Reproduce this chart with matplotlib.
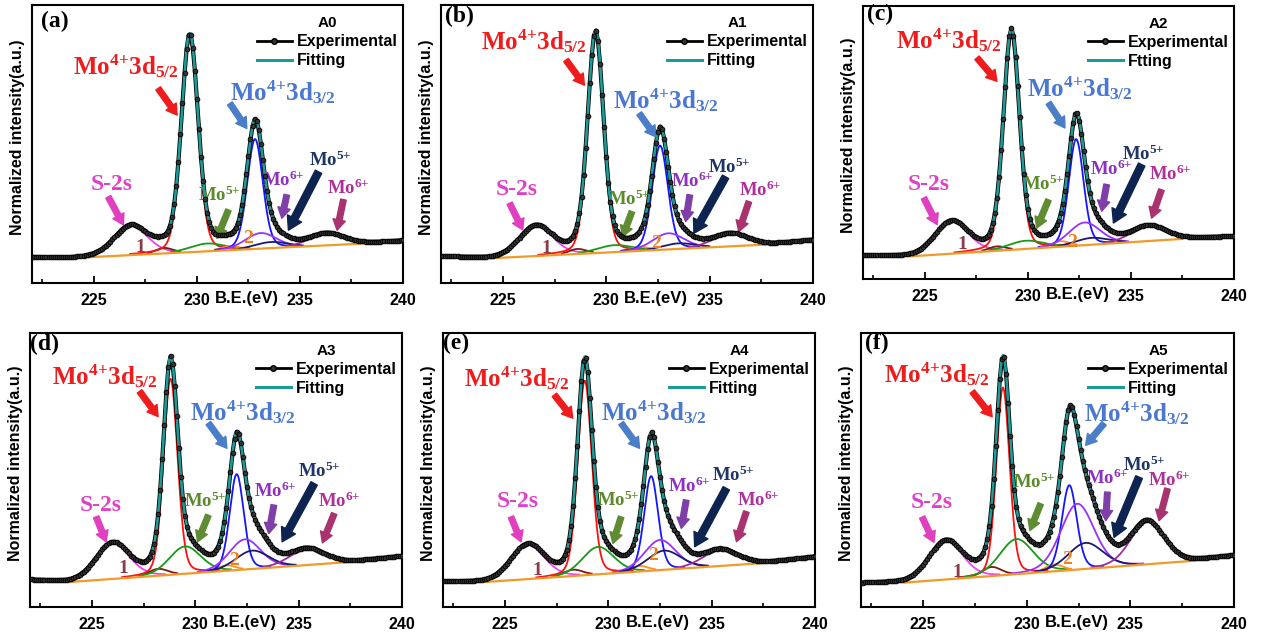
import numpy as np
import matplotlib
matplotlib.use('Agg')
import matplotlib.pyplot as plt
from matplotlib.lines import Line2D

plt.rcParams['font.family'] = 'Liberation Sans'
plt.rcParams['font.weight'] = 'bold'
plt.rcParams['axes.labelweight'] = 'bold'
plt.rcParams['mathtext.fontset'] = 'custom'
plt.rcParams['mathtext.rm'] = 'Liberation Serif:bold'
plt.rcParams['mathtext.it'] = 'Liberation Serif:bold'
plt.rcParams['mathtext.bf'] = 'Liberation Serif:bold'

# panel names
samples = ['A0', 'A1', 'A2', 'A3', 'A4', 'A5']
panel_tags = ['(a)', '(b)', '(c)', '(d)', '(e)', '(f)']
fit_names = ['Fitting', 'Fitting', 'Ftting', 'Fitting', 'Fitting', 'Fitting']
y_names = ['Normalized intensity(a.u.)'] * 4 + ['Normalized Intensity(a.u.)',
                                                'Normalized intensity(a.u.)']

# fitted peaks (per panel): S-2s, 1, Mo4+3d5/2, Mo5+, 2, Mo4+3d3/2, Mo6+, Mo5+, Mo6+
peak_centers = [
    [226.8, 228.4, 229.65, 230.5, 231.6, 232.82, 233.1, 233.6, 236.3],
    [226.6, 228.6, 229.48, 230.4, 231.6, 232.6, 233.0, 233.5, 236.0],
    [226.3, 228.5, 229.2, 229.9, 231.6, 232.34, 232.75, 233.1, 235.85],
    [226.0, 228.2, 228.8, 229.5, 231.5, 232.0, 232.4, 232.75, 235.4],
    [226.1, 228.3, 228.86, 229.5, 231.5, 232.07, 232.5, 232.7, 235.4],
    [226.1, 228.3, 228.85, 229.5, 231.3, 232.05, 232.44, 232.84, 235.8],
]
peak_heights = [
    [0.105, 0.020, 0.765, 0.028, 0.015, 0.395, 0.056, 0.022, 0.042],
    [0.108, 0.018, 0.780, 0.025, 0.015, 0.375, 0.058, 0.020, 0.045],
    [0.118, 0.016, 0.780, 0.030, 0.020, 0.390, 0.083, 0.025, 0.055],
    [0.130, 0.025, 0.715, 0.100, 0.020, 0.350, 0.110, 0.067, 0.058],
    [0.125, 0.023, 0.710, 0.100, 0.020, 0.345, 0.110, 0.070, 0.058],
    [0.139, 0.033, 0.685, 0.128, 0.025, 0.310, 0.240, 0.095, 0.155],
]
peak_fwhm = [
    [1.9, 1.0, 0.95, 2.0, 1.0, 0.90, 1.8, 1.9, 2.0],
    [1.9, 1.0, 0.90, 2.0, 1.0, 0.90, 1.8, 1.9, 2.0],
    [1.9, 1.0, 0.90, 2.0, 1.0, 0.85, 1.8, 1.9, 2.0],
    [1.9, 1.1, 0.80, 1.8, 1.0, 0.80, 1.8, 1.9, 2.0],
    [1.9, 1.1, 0.80, 1.8, 1.0, 0.80, 1.8, 1.9, 2.0],
    [1.9, 1.1, 0.75, 1.9, 1.0, 0.85, 1.9, 2.0, 1.9],
]
# background knots (eV, intensity); orange line drawn between the middle two
bg_x = [
    [222, 223.7, 238.3, 240],
    [222, 224.4, 237.9, 240],
    [222, 224.3, 237.5, 240],
    [222, 223.9, 237.6, 240],
    [222, 224.0, 237.6, 240],
    [222, 224.1, 238.1, 240],
]
bg_y = [
    [0.092, 0.089, 0.143, 0.152],
    [0.095, 0.089, 0.139, 0.155],
    [0.085, 0.083, 0.147, 0.156],
    [0.098, 0.091, 0.165, 0.185],
    [0.091, 0.091, 0.161, 0.183],
    [0.086, 0.089, 0.169, 0.187],
]
comp_colors = ['#ee44ee', '#7a1a1a', '#ff1010', '#169a16', '#ff9020',
               '#1515ff', '#9b30ff', '#1a1a70', '#a02a9a']

# label / arrow placement (eV, axes height fraction)
red_lab = [(224.0, 0.782), (223.95, 0.872), (223.58, 0.874), (223.08, 0.844), (223.03, 0.835), (223.1, 0.851)]
red_arr = [((228.12, 0.70), (229.04, 0.604)), ((228.05, 0.802), (228.94, 0.712)), ((227.53, 0.81), (228.5, 0.724)),
           ((227.3, 0.787), (228.2, 0.695)), ((227.39, 0.774), (228.28, 0.689)), ((227.37, 0.786), (228.33, 0.694))]
blue_lab = [(231.6, 0.688), (230.31, 0.658), (229.95, 0.70), (229.74, 0.713), (229.65, 0.713), (232.76, 0.707)]
blue_arr = [((231.6, 0.646), (232.42, 0.556)), ((231.59, 0.61), (232.4, 0.526)), ((231.0, 0.645), (231.8, 0.553)),
            ((230.63, 0.671), (231.53, 0.579)), ((230.62, 0.671), (231.51, 0.579)), ((233.73, 0.67), (232.84, 0.59))]
s_lab = [(225.87, 0.353), (225.64, 0.335), (225.19, 0.346), (225.44, 0.372), (225.61, 0.384), (225.43, 0.383)]
s_arr = [((225.7, 0.31), (226.43, 0.209)), ((225.32, 0.287), (225.96, 0.191)), ((224.95, 0.297), (225.6, 0.199)),
         ((225.2, 0.329), (225.68, 0.238)), ((225.29, 0.329), (225.78, 0.238)), ((224.95, 0.328), (225.52, 0.236))]
one_lab = [(227.24, 0.126), (227.09, 0.125), (226.8, 0.126), (226.5, 0.14), (226.58, 0.134), (226.64, 0.126)]
two_lab = [(232.5, 0.161), (232.4, 0.143), (232.13, 0.132), (231.85, 0.171), (232.16, 0.189), (231.96, 0.175)]
g_lab = [(231.1, 0.317), (231.1, 0.30), (230.76, 0.346), (230.47, 0.384), (230.46, 0.39), (230.35, 0.456)]
g_arr = [((231.53, 0.263), (230.97, 0.161)), ((231.24, 0.257), (230.79, 0.167)), ((231.0, 0.29), (230.43, 0.187)),
         ((230.63, 0.335), (230.11, 0.238)), ((230.62, 0.329), (230.22, 0.232)), ((230.67, 0.377), (230.15, 0.279))]
v_lab = [(234.2, 0.37), (234.16, 0.365), (234.06, 0.40), (233.88, 0.421), (233.93, 0.439), (233.89, 0.468)]
v_arr = [((234.36, 0.317), (234.12, 0.233)), ((234.04, 0.317), (233.84, 0.221)), ((233.82, 0.346), (233.58, 0.248)),
         ((233.8, 0.372), (233.55, 0.268)), ((233.77, 0.39), (233.53, 0.287)), ((233.89, 0.419), (233.81, 0.315))]
n_lab = [(236.47, 0.442), (235.93, 0.418), (235.6, 0.455), (235.99, 0.494), (236.03, 0.482), (235.66, 0.517)]
n_arr = [((235.9, 0.40), (234.44, 0.19)), ((235.77, 0.382), (234.24, 0.179)), ((235.52, 0.419), (234.15, 0.205)),
         ((235.75, 0.451), (234.2, 0.238)), ((235.71, 0.433), (234.18, 0.22)), ((235.42, 0.474), (234.21, 0.254))]
m_lab = [(237.35, 0.34), (237.46, 0.335), (236.89, 0.382), (236.96, 0.384), (237.25, 0.39), (236.87, 0.462)]
m_arr = [((237.11, 0.30), (236.8, 0.19)), ((236.9, 0.293), (236.41, 0.185)), ((236.48, 0.327), (236.0, 0.223)),
         ((236.72, 0.341), (236.15, 0.234)), ((236.68, 0.348), (236.2, 0.238)), ((236.79, 0.432), (236.38, 0.315))]
tag_pos = [(223.1, 0.94), (222.9, 0.958), (222.85, 0.968), (222.68, 0.957), (222.63, 0.963), (222.78, 0.963)]

# axes rectangles in figure fractions
rects = [
    [0.0254, 0.5564, 0.2942, 0.4357],
    [0.3497, 0.5564, 0.2950, 0.4357],
    [0.6844, 0.5627, 0.2942, 0.4280],
    [0.0238, 0.0486, 0.2950, 0.4295],
    [0.3513, 0.0486, 0.2950, 0.4295],
    [0.6828, 0.0486, 0.2958, 0.4295],
]

eta = 0.2


def pvoigt(x, c, h, w):
    g = np.exp(-4 * np.log(2) * ((x - c) / w) ** 2)
    l = 1 / (1 + 4 * ((x - c) / w) ** 2)
    return h * ((1 - eta) * g + eta * l)


def arrow(ax, tail, head, color, scale=15):
    ax.annotate('', xy=head, xytext=tail,
                arrowprops=dict(arrowstyle='simple,head_length=0.5,head_width=0.6,tail_width=0.27',
                                color=color, shrinkA=0, shrinkB=0, mutation_scale=scale))


serif = 'Liberation Serif'
x_fit = np.linspace(222, 240, 1201)
x_exp = np.arange(222, 240.01, 0.1)

fig = plt.figure(figsize=(12.61, 6.38), dpi=100)

for i in range(6):
    ax = fig.add_axes(rects[i])
    bg_fit = np.interp(x_fit, bg_x[i], bg_y[i])
    bg_exp = np.interp(x_exp, bg_x[i], bg_y[i])
    env_fit = bg_fit.copy()
    env_exp = bg_exp.copy()
    for c, h, w, col in zip(peak_centers[i], peak_heights[i], peak_fwhm[i], comp_colors):
        comp = pvoigt(x_fit, c, h, w)
        env_fit += comp
        env_exp += pvoigt(x_exp, c, h, w)
        shown = np.where(comp > 0.004, comp + bg_fit, np.nan)
        ax.plot(x_fit, shown, color=col, lw=1.3, zorder=2)
    inside = (x_fit >= bg_x[i][1]) & (x_fit <= bg_x[i][2])
    ax.plot(x_fit[inside], bg_fit[inside], color='#ef9a2a', lw=1.6, zorder=2.5)

    ax.plot(x_exp, env_exp, color='black', lw=3.0, zorder=3)
    ax.plot(x_fit, env_fit, color='#1f9a96', lw=1.9, zorder=4)
    ax.plot(x_exp, env_exp, ls='none', marker='o', ms=3.4, mfc='#333333', mec='black',
            mew=0.6, zorder=5)

    ax.set_xlim(222, 240)
    ax.set_ylim(0, 1)
    ax.set_xticks([225, 230, 235, 240])
    ax.set_xticks([222.5, 227.5, 232.5, 237.5], minor=True)
    ax.set_yticks([])
    ax.tick_params(axis='x', which='major', direction='in', length=5, width=1.3, labelsize=11.5, pad=7)
    ax.tick_params(axis='x', which='minor', direction='in', length=3, width=1.2)
    for lab in ax.get_xticklabels():
        lab.set_fontweight('bold')
    for sp in ax.spines.values():
        sp.set_linewidth(1.5)

    ax.set_xlabel('B.E.(eV)', fontsize=12, fontweight='bold')
    ax.xaxis.set_label_coords((232.4 - 222) / 18, -0.03)
    ax.xaxis.label.set_va('top')
    ax.set_ylabel(y_names[i], fontsize=11.5, fontweight='bold')
    ax.yaxis.set_label_coords(-0.02, 0.525)

    handles = [Line2D([], [], color='black', lw=2.0, marker='o', ms=4, mfc='#333333', mec='black'),
               Line2D([], [], color='#1f9a96', lw=2.2)]
    ax.legend(handles, ['Experimental', fit_names[i]], title=samples[i], loc='upper right',
              bbox_to_anchor=(0.985, 0.96), frameon=False,
              prop={'size': 11.5, 'weight': 'bold'},
              title_fontproperties={'size': 11, 'weight': 'bold'},
              handlelength=2.2, handletextpad=0.3, labelspacing=0.25, borderaxespad=0, borderpad=0)

    # labels and arrows
    ax.text(*tag_pos[i], panel_tags[i], family=serif, fontweight='bold', fontsize=17, ha='center', va='center')
    ax.text(*red_lab[i], r'Mo$^{4{+}}$3d$_{5/2}$', family=serif, fontweight='bold', fontsize=18,
            color='#ee1c1c', ha='left', va='center')
    arrow(ax, *red_arr[i], '#ee1c1c')
    ax.text(*blue_lab[i], r'Mo$^{4{+}}$3d$_{3/2}$', family=serif, fontweight='bold', fontsize=18,
            color='#4a78d0', ha='left', va='center')
    arrow(ax, *blue_arr[i], '#4a7fc8')
    ax.text(*s_lab[i], 'S-2s', family=serif, fontweight='bold', fontsize=17, color='#e040c8',
            ha='center', va='center')
    arrow(ax, *s_arr[i], '#e040c0')
    ax.text(*one_lab[i], '1', family=serif, fontweight='bold', fontsize=14, color='#8b3a4a',
            ha='center', va='center')
    ax.text(*two_lab[i], '2', family=serif, fontweight='bold', fontsize=14, color='#f08020',
            ha='center', va='center')
    ax.text(*g_lab[i], r'Mo$^{5{+}}$', family=serif, fontweight='bold', fontsize=13.5, color='#5a8a2a',
            ha='center', va='center')
    arrow(ax, *g_arr[i], '#5f8c32')
    ax.text(*v_lab[i], r'Mo$^{6{+}}$', family=serif, fontweight='bold', fontsize=13.5, color='#9030c0',
            ha='center', va='center')
    arrow(ax, *v_arr[i], '#7e3fa8')
    ax.text(*n_lab[i], r'Mo$^{5{+}}$', family=serif, fontweight='bold', fontsize=13.5, color='#1f3565',
            ha='center', va='center')
    arrow(ax, *n_arr[i], '#0e2450', scale=19)
    ax.text(*m_lab[i], r'Mo$^{6{+}}$', family=serif, fontweight='bold', fontsize=13.5, color='#b0309a',
            ha='center', va='center')
    arrow(ax, *m_arr[i], '#a8336e')

fig.savefig('out.png', dpi=100)
